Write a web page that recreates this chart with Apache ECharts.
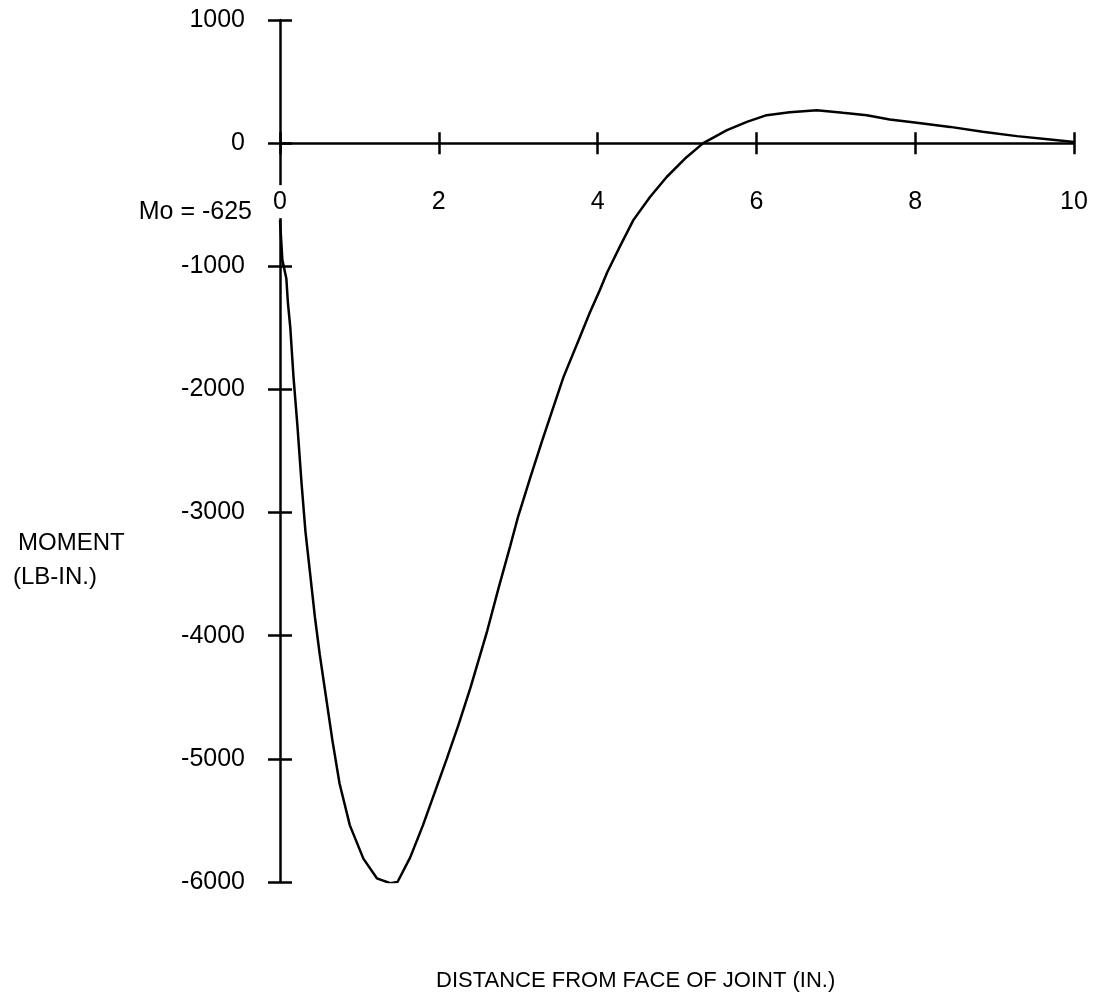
<!DOCTYPE html>
<html>
<head>
<meta charset="utf-8">
<script src="https://cdn.jsdelivr.net/npm/echarts@6/dist/echarts.min.js"></script>
<style>
  html, body { margin: 0; padding: 0; background: #ffffff; }
  #chart { width: 1104px; height: 1003px; }
</style>
</head>
<body>
<div id="chart"></div>
<script>
// ---- data ----
const distance = [0, 0.03, 0.08, 0.10, 0.13, 0.17, 0.22, 0.27, 0.32, 0.38, 0.44, 0.50, 0.58, 0.66, 0.75, 0.88, 1.05, 1.22, 1.39, 1.48, 1.64, 1.80, 1.95, 2.10, 2.25, 2.40, 2.61, 2.75, 2.90, 3.00, 3.15, 3.30, 3.44, 3.57, 3.78, 3.90, 4.03, 4.12, 4.28, 4.45, 4.66, 4.87, 5.12, 5.33, 5.63, 5.88, 6.13, 6.42, 6.76, 7.09, 7.39, 7.68, 8.02, 8.44, 8.85, 9.28, 9.70, 10.0];
const moment = [-625, -950, -1100, -1300, -1500, -1900, -2300, -2750, -3150, -3500, -3850, -4150, -4500, -4850, -5200, -5540, -5810, -5970, -6010, -6000, -5800, -5540, -5270, -5000, -4720, -4420, -3960, -3620, -3270, -3030, -2720, -2420, -2150, -1900, -1570, -1380, -1190, -1050, -840, -625, -437, -275, -114, 0, 105, 173, 227, 250, 268, 246, 227, 192, 165, 132, 92, 57, 30, 10];

const xTicks = [0, 2, 4, 6, 8, 10];
const yTicks = [1000, 0, -1000, -2000, -3000, -4000, -5000, -6000];
const moLabel = 'Mo = -625';
const moPoint = [0, -625];
const xTitle = 'DISTANCE FROM FACE OF JOINT (IN.)';
const yTitle = ['MOMENT', '(LB-IN.)'];

const points = distance.map((d, i) => [d, moment[i]]);

// ---- layout / style ----
const FONT = '"Liberation Sans", Arial, Helvetica, sans-serif';
const INK = '#000000';
const lineW = 2.5;
const GRID = { left: 280, right: 30, top: 20, bottom: 121 };
const H = 1003;

const xMin = xTicks[0], xMax = xTicks[xTicks.length - 1], xStep = xTicks[1] - xTicks[0];
const yMin = yTicks[yTicks.length - 1], yMax = yTicks[0], yStep = yTicks[0] - yTicks[1];

// the labelled x axis is lifted from the grid bottom to the zero line
const plotH = H - GRID.top - GRID.bottom;
const zeroFromBottom = plotH * (0 - yMin) / (yMax - yMin);

const chart = echarts.init(document.getElementById('chart'), null, { renderer: 'canvas' });

chart.setOption({
  animation: false,
  backgroundColor: '#ffffff',
  grid: Object.assign({ containLabel: false }, GRID),
  xAxis: [
    {
      type: 'value', min: xMin, max: xMax, interval: xStep, position: 'bottom', z: 5,
      offset: -zeroFromBottom,
      axisLine: { show: true, onZero: false, lineStyle: { color: INK, width: lineW } },
      axisTick: { show: true, length: 11, lineStyle: { color: INK, width: lineW } },
      splitLine: { show: false },
      axisLabel: {
        show: true, margin: 42, color: INK, fontSize: 25, fontFamily: FONT,
        backgroundColor: '#ffffff', padding: [4, 2, 4, 2],
        formatter: v => String(v)
      }
    },
    {
      type: 'value', min: xMin, max: xMax, interval: xStep, position: 'top',
      axisLine: { show: false, onZero: true },
      axisTick: { show: true, length: 11, lineStyle: { color: INK, width: lineW } },
      splitLine: { show: false },
      axisLabel: { show: false }
    }
  ],
  yAxis: [
    {
      type: 'value', min: yMin, max: yMax, interval: yStep, position: 'left',
      axisLine: { show: true, onZero: true, lineStyle: { color: INK, width: lineW } },
      axisTick: { show: true, length: 12, lineStyle: { color: INK, width: lineW } },
      splitLine: { show: false },
      axisLabel: { show: true, margin: 35, color: INK, fontSize: 25, fontFamily: FONT, formatter: v => String(v) }
    },
    {
      type: 'value', min: yMin, max: yMax, interval: yStep, position: 'right',
      axisLine: { show: false, onZero: true },
      axisTick: { show: true, length: 12, lineStyle: { color: INK, width: lineW } },
      splitLine: { show: false },
      axisLabel: { show: false }
    }
  ],
  series: [
    {
      type: 'line', xAxisIndex: 0, yAxisIndex: 0,
      data: points, showSymbol: false, symbol: 'none',
      smooth: false,
      lineStyle: { color: INK, width: lineW },
      markPoint: {
        symbol: 'circle', symbolSize: 0, silent: true,
        label: {
          show: true, position: 'left', distance: 28, offset: [0, -8],
          color: INK, fontSize: 25, fontFamily: FONT, formatter: moLabel
        },
        data: [{ coord: moPoint }]
      }
    }
  ],
  graphic: [
    { type: 'text', left: 18, top: 531, style: { text: yTitle[0], fontSize: 24, fontFamily: FONT, fill: INK } },
    { type: 'text', left: 13, top: 565, style: { text: yTitle[1], fontSize: 24, fontFamily: FONT, fill: INK } },
    { type: 'text', left: 436, top: 970, style: { text: xTitle, fontSize: 22, fontFamily: FONT, fill: INK } }
  ]
});
</script>
</body>
</html>
